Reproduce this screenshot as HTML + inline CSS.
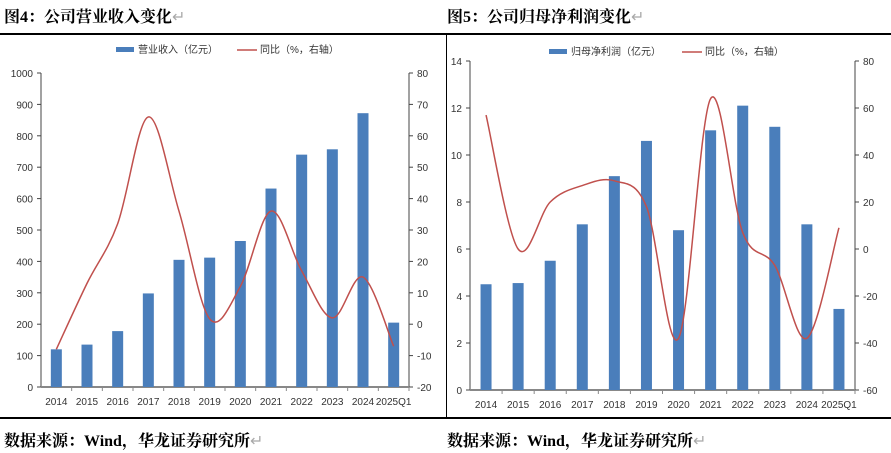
<!DOCTYPE html>
<html><head><meta charset="utf-8"><style>
body{margin:0;width:891px;height:453px;background:#fff;overflow:hidden;position:relative;font-family:"Liberation Serif","Noto Serif CJK SC",serif}
.t{position:absolute;font-weight:bold;font-size:16px;color:#000;white-space:nowrap}
.hl{position:absolute;height:2px;background:#000}
svg{position:absolute;left:0;top:0}
svg text{font-family:"Liberation Sans","Noto Sans CJK SC",sans-serif;font-size:10px;fill:#333}
</style></head><body>
<div class="t" style="left:4px;top:4px">图4：公司营业收入变化<span style="color:#aaa;font-weight:normal">↵</span></div>
<div class="t" style="left:447px;top:4px">图5：公司归母净利润变化<span style="color:#aaa;font-weight:normal">↵</span></div>
<div class="hl" style="left:0;top:33px;width:891px"></div>
<div class="hl" style="left:0;top:417px;width:891px"></div>
<div style="position:absolute;left:446px;top:34px;width:1px;height:384px;background:#000"></div>
<div class="t" style="left:4px;top:428px">数据来源：Wind，华龙证券研究所<span style="color:#aaa;font-weight:normal">↵</span></div>
<div class="t" style="left:447px;top:428px">数据来源：Wind，华龙证券研究所<span style="color:#aaa;font-weight:normal">↵</span></div>
<svg id="s" width="891" height="453"></svg>
<script>
const categories=["2014","2015","2016","2017","2018","2019","2020","2021","2022","2023","2024","2025Q1"];
const revenue=[120,135,178,298,405,412,465,632,740,757,872,205];
const revenueYoY=[-8,13,32,66,36,1.7,12,36,17,2,15,-7];
const profit=[4.5,4.55,5.5,7.05,9.1,10.6,6.8,11.05,12.1,11.2,7.05,3.45];
const profitYoY=[57,0,20,27,29,18,-38,64,7,-7,-38,9];
const revTicks=[0,100,200,300,400,500,600,700,800,900,1000];
const revYoYTicks=[-20,-10,0,10,20,30,40,50,60,70,80];
const profTicks=[0,2,4,6,8,10,12,14];
const profYoYTicks=[-60,-40,-20,0,20,40,60,80];
const NS="http://www.w3.org/2000/svg";
const svg=document.getElementById('s');
function el(t,a,p){const e=document.createElementNS(NS,t);for(const k in a)e.setAttribute(k,a[k]);(p||svg).appendChild(e);return e;}
function chart(o){
  const g=el('g',{});
  
  
  const yL=v=>o.bot-(v-o.lmin)/(o.lmax-o.lmin)*(o.bot-o.top);
  const yR=v=>o.bot-(v-o.rmin)/(o.rmax-o.rmin)*(o.bot-o.top);
  const n=categories.length, step=(o.xr-o.xl)/n;
  const xc=i=>o.xl+step*(i+0.5);
  // axes
  const a1=el('line',{x1:o.xl,x2:o.xl,y1:o.top,y2:o.bot,stroke:'#444'},g);
  
  const a2=el('line',{x1:o.xr,x2:o.xr,y1:o.top,y2:o.bot,stroke:'#444'},g);
  
  const a3=el('line',{x1:o.xl,x2:o.xr,y1:o.bot,y2:o.bot,stroke:'#888','stroke-width':2},g);
  
  o.lt.forEach(v=>{el('line',{x1:o.xl-4,x2:o.xl,y1:yL(v),y2:yL(v),stroke:'#444'},g);
    const t=el('text',{x:o.xl-8,y:yL(v)+4,'text-anchor':'end'},g);t.textContent=v;
    });
  o.rt.forEach(v=>{el('line',{x1:o.xr,x2:o.xr+4,y1:yR(v),y2:yR(v),stroke:'#444'},g);
    const t=el('text',{x:o.xr+8,y:yR(v)+4},g);t.textContent=v;
    });
  categories.forEach((c,i)=>{
    el('line',{x1:o.xl+step*(i+1),x2:o.xl+step*(i+1),y1:o.bot,y2:o.bot+4,stroke:'#888'},g);
    const t=el('text',{x:xc(i),y:o.bot+18,'text-anchor':'middle','font-size':'9.5'},g);t.textContent=c;
    
  });
  o.bars.forEach((v,i)=>{const r=el('rect',{x:xc(i)-5.5,y:yL(v),width:11,height:o.bot-yL(v),fill:'#4a7ebb'},g);
    });
  const P=o.line.map((v,i)=>[xc(i),yR(v)]);
  let d='M'+P[0][0]+','+P[0][1];
  for(let i=0;i<P.length-1;i++){const p0=P[Math.max(0,i-1)],p1=P[i],p2=P[i+1],p3=P[Math.min(P.length-1,i+2)];
    d+=` C${p1[0]+(p2[0]-p0[0])/6},${p1[1]+(p2[1]-p0[1])/6} ${p2[0]-(p3[0]-p1[0])/6},${p2[1]-(p3[1]-p1[1])/6} ${p2[0]},${p2[1]}`;}
  const pl=el('path',{d:d,fill:'none',stroke:'#c0504d','stroke-width':1.5},g);
  
  // legend
  const lg=el('g',{},g);
  el('rect',{x:o.lgx,y:o.lgy-3,width:18,height:5,fill:'#4a7ebb'},lg);
  const t1=el('text',{x:o.lgx+22,y:o.lgy+3,'font-size':'9'},lg);t1.textContent=o.barLabel;
  el('line',{x1:o.lgx2,x2:o.lgx2+20,y1:o.lgy,y2:o.lgy,stroke:'#c0504d','stroke-width':1.5},lg);
  const t2=el('text',{x:o.lgx2+23,y:o.lgy+3,'font-size':'9'},lg);t2.textContent='同比（%，右轴）';
}
chart({name:'revenue-chart',xl:41,xr:409,top:73,bot:387,lmin:0,lmax:1000,rmin:-20,rmax:80,lt:revTicks,rt:revYoYTicks,bars:revenue,line:revenueYoY,lgx:116,lgx2:237,lgy:50,barLabel:'营业收入（亿元）'});
chart({name:'profit-chart',xl:470,xr:855,top:61,bot:390,lmin:0,lmax:14,rmin:-60,rmax:80,lt:profTicks,rt:profYoYTicks,bars:profit,line:profitYoY,lgx:549,lgx2:682,lgy:52,barLabel:'归母净利润（亿元）'});
</script>
</body></html>
